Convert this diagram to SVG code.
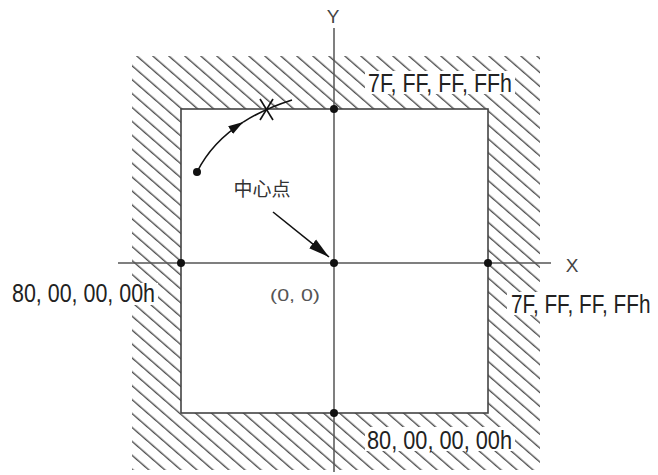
<svg xmlns="http://www.w3.org/2000/svg" width="658" height="475" viewBox="0 0 658 475">
<style>
.lbl{font-family:"Liberation Sans",Arial,sans-serif;font-size:25px;fill:#222}
.axl{font-family:"Liberation Sans",Arial,sans-serif;font-size:19px;fill:#444}
.cjk{font-family:"Liberation Sans","Noto Sans CJK SC",sans-serif;font-size:19px;fill:#333}
.sm{font-family:"Liberation Sans",Arial,sans-serif;font-size:17px;fill:#555}
.ax{stroke:#555;stroke-width:1.5;fill:none}
.sq{stroke:#444;stroke-width:1.6;fill:none}
.ln{stroke:#111;stroke-width:1.6;fill:none}
.dot{fill:#111}
.bg{fill:#fff}
</style>
<defs>
<pattern id="hatch" patternUnits="userSpaceOnUse" width="10.5" height="10.5" patternTransform="rotate(41)">
<line x1="0" y1="5" x2="10.5" y2="5" stroke="#333" stroke-width="1.2"/>
</pattern>
<marker id="arrS" markerUnits="userSpaceOnUse" markerWidth="16" markerHeight="10" refX="15" refY="5" orient="auto">
<polygon points="0,0.5 15,5 0,9.5" fill="#111"/>
</marker>
<marker id="arrL" markerUnits="userSpaceOnUse" markerWidth="22" markerHeight="12" refX="21" refY="6" orient="auto">
<polygon points="0,0.5 21,6 0,11.5" fill="#111"/>
</marker>
</defs>
<g id="frame">
<path d="M132,56 H540 V470 H132 Z M181,109 V413 H488 V109 Z" fill="url(#hatch)" fill-rule="evenodd"/>
<rect x="181" y="109" width="307" height="304" class="sq"/>
</g>
<g id="connectors">
<line x1="334" y1="28" x2="334" y2="472" class="ax"/>
<line x1="118" y1="263" x2="551" y2="263" class="ax"/>
<path d="M197,172 Q212,142 243.2,122.1" class="ln" marker-end="url(#arrS)"/>
<path d="M243.2,122.1 Q264,108.8 292,100" class="ln"/>
<line x1="273" y1="212" x2="329" y2="257" class="ln" marker-end="url(#arrL)"/>
</g>
<g id="cross">
<line x1="260" y1="99" x2="273" y2="120" class="ln"/>
<line x1="273" y1="99" x2="260" y2="120" class="ln"/>
</g>
<g id="points">
<circle cx="334" cy="109" r="4" class="dot"/>
<circle cx="181" cy="263" r="4" class="dot"/>
<circle cx="334" cy="263" r="4" class="dot"/>
<circle cx="488" cy="263" r="4" class="dot"/>
<circle cx="334" cy="413" r="4" class="dot"/>
<circle cx="197" cy="172" r="4" class="dot"/>
</g>
<g id="axis-labels">
<text x="333" y="23" text-anchor="middle" class="axl">Y</text>
<text x="572" y="272" text-anchor="middle" class="axl">X</text>
</g>
<g id="label-top">
<rect x="365" y="71" width="150" height="23" class="bg"/>
<text x="368" y="92" class="lbl" textLength="144" lengthAdjust="spacingAndGlyphs">7F, FF, FF, FFh</text>
</g>
<g id="label-left">
<rect x="10" y="283" width="148" height="22" class="bg"/>
<text x="12" y="302" class="lbl" textLength="143" lengthAdjust="spacingAndGlyphs">80, 00, 00, 00h</text>
</g>
<g id="label-right">
<rect x="507" y="292" width="148" height="23" class="bg"/>
<text transform="translate(511,313) scale(0.83,1)" x="0" y="0" class="lbl">7F, FF, FF, FFh</text>
</g>
<g id="label-bottom">
<rect x="365" y="427" width="150" height="24" class="bg"/>
<text x="367" y="449" class="lbl" textLength="145" lengthAdjust="spacingAndGlyphs">80, 00, 00, 00h</text>
</g>
<g id="label-origin">
<text x="270" y="301" class="sm" textLength="50" lengthAdjust="spacingAndGlyphs">(0, 0)</text>
</g>
<g id="label-center">
<text x="262" y="196" text-anchor="middle" class="cjk">中心点</text>
</g>
</svg>
